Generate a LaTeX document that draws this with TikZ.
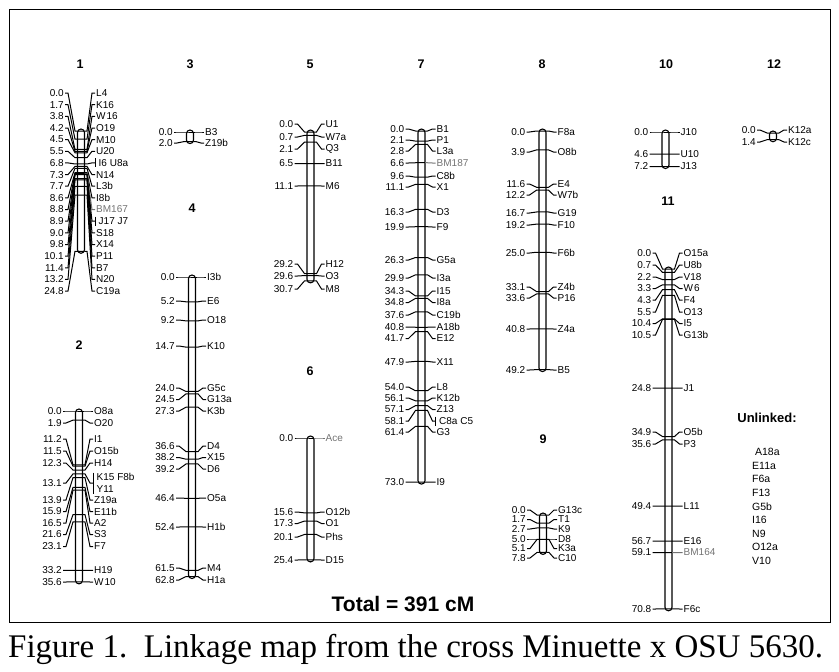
\documentclass[tikz,border=0pt]{standalone}
\usepackage{fontspec}
\setmainfont{Liberation Sans}
\newfontfamily\capfont{Liberation Serif}
\usetikzlibrary{positioning}

% kinds of markers: n = plain, g = grey, b = with bar
\def\kindg{g}
\def\kindb{b}
\def\cmscale{4.8}

% bar of one linkage group: centre x, top y, length in cM
\newcommand{\chrom}[3]{%
  \draw[bar] (#1-3.5,#2-2) rectangle (#1+3.5,#2+#3*\cmscale+2);
}

% markers of one linkage group: name, centre x, top y, list cM/label y/marker/kind
\newcommand{\markers}[4]{%
  \foreach \cmv/\ly/\mk/\kd [count=\i] in {#4} {
    \pgfmathsetmacro{\ty}{#3+\cmv*\cmscale}
    \coordinate (#1t\i) at (#2,\ty);
    \coordinate (#1s\i) at (#2-16,\ly);
    \coordinate (#1e\i) at (#2+14,\ly);
    \node[lbl, anchor=east] (#1l\i) at (#2-17,\ly) {\cmv};
    \draw[link] (#1s\i) -- ++(3,0) -- ([xshift=-6pt]#1t\i) -- ([xshift=3.5pt]#1t\i);
    \ifx\kd\kindg
      \node[lbl, anchor=west, text=black!55] (#1r\i) at (#2+15,\ly) {\mk};
      \draw[link, black!55] ([xshift=3.5pt]#1t\i) -- ([xshift=6pt]#1t\i) -- ([xshift=-3pt]#1e\i) -- (#1e\i);
    \else
      \ifx\kd\kindb
        \node[lbl, anchor=west] (#1r\i) at (#2+17.5,\ly) {\mk};
        \draw[link] ([yshift=4.5pt]#1e\i) -- ([yshift=-4.5pt]#1e\i);
      \else
        \node[lbl, anchor=west] (#1r\i) at (#2+15,\ly) {\mk};
      \fi
      \draw[link] ([xshift=3.5pt]#1t\i) -- ([xshift=6pt]#1t\i) -- ([xshift=-3pt]#1e\i) -- (#1e\i);
    \fi
  }
}

\begin{document}
\begin{tikzpicture}[x=1pt, y=-1pt,
    lbl/.style={font=\fontsize{10}{11}\selectfont, inner sep=0pt},
    num/.style={font=\fontsize{12.5}{12.5}\selectfont\bfseries, inner sep=0pt},
    link/.style={line width=1pt},
    bar/.style={line width=1.1pt, fill=white, rounded corners=3.5pt}]
  \useasboundingbox (0,0) rectangle (839,672);
  % Rahmen
  \draw[line width=0.9pt] (9,9) rectangle (830,622);

  % Gruppennummern
  \node[num] (n1) at (80,64) {1};
  \node[num] (n3) at (190,64) {3};
  \node[num] (n5) at (310,64) {5};
  \node[num] (n7) at (421,64) {7};
  \node[num] (n8) at (542,64) {8};
  \node[num] (n10) at (666,64) {10};
  \node[num] (n12) at (774,64) {12};
  \node[num] (n2) at (79,345) {2};
  \node[num] (n4) at (192,208) {4};
  \node[num] (n6) at (310,371) {6};
  \node[num] (n9) at (543,439) {9};
  \node[num] (n11) at (668,201) {11};

  % Gruppe 1
  \def\cmscale{4.85}
  \chrom{81}{131}{24.8}
  \markers{c1}{81}{131}{0.0/93/L4/n, 1.7/104.6/K16/n, 3.8/116.3/W\kern1pt16/n,
    4.2/128/O19/n, 4.5/139.6/M10/n, 5.5/151.3/U20/n, 6.8/162.9/I6 U8a/b,
    7.3/174.6/N14/n, 7.7/186.2/L3b/n, 8.6/197.9/I8b/n, 8.8/209.5/BM167/g,
    8.9/221.2/J17 J7/b, 9.0/232.8/S18/n, 9.8/244.5/X14/n, 10.1/256.1/P11/n,
    11.4/267.8/B7/n, 13.2/279.4/N20/n, 24.8/291/C19a/n}

  % Gruppe 2
  \def\cmscale{4.8}
  \chrom{79}{411}{35.6}
  \markers{c2}{79}{411}{0.0/411/O8a/n, 1.9/423/O20/n, 11.2/439/I1/n,
    11.5/451/O15b/n, 12.3/463/H14/n, 13.9/500/Z19a/n, 15.9/511.5/E11b/n,
    16.5/523/A2/n, 21.6/534.5/S3/n, 23.1/546.5/F7/n, 33.2/570.4/H19/n,
    35.6/582/W\kern1pt10/n}
  % 13.1 mit drei Markern
  \coordinate (c2t13) at (79,473.9);
  \node[lbl, anchor=east] (c2l13) at (62,483) {13.1};
  \draw[link] ([xshift=1pt]c2l13.east) -- ++(3,0) -- ([xshift=-6pt]c2t13)
    -- ([xshift=6pt]c2t13) -- (90,483) -- (93,483);
  \draw[link] (93,472.5) -- (93,493.5);
  \node[lbl, anchor=west] (c2r13a) at (96.5,477) {K15 F8b};
  \node[lbl, anchor=west] (c2r13b) at (96.5,489) {Y11};

  % Gruppe 3
  \chrom{190}{132}{2.0}
  \markers{c3}{190}{132}{0.0/132/B3/n, 2.0/143/Z19b/n}

  % Gruppe 4
  \def\cmscale{4.77}
  \chrom{192}{277}{62.8}
  \markers{c4}{192}{277}{0.0/277/I3b/n, 5.2/301/E6/n, 9.2/320/O18/n,
    14.7/346/K10/n, 24.0/388/G5c/n, 24.5/399.5/G13a/n, 27.3/411/K3b/n,
    36.6/446/D4/n, 38.2/457.5/X15/n, 39.2/469/D6/n, 46.4/498/O5a/n,
    52.4/527/H1b/n, 61.5/568/M4/n, 62.8/580/H1a/n}

  % Gruppe 5
  \def\cmscale{4.85}
  \chrom{310.5}{132}{30.7}
  \markers{c5}{310.5}{132}{0.0/124/U1/n, 0.7/137/W7a/n, 2.1/149/Q3/n,
    6.5/163.5/B11/n, 11.1/186/M6/n, 29.2/264/H12/n, 29.6/276/O3/n,
    30.7/289/M8/n}

  % Gruppe 6
  \def\cmscale{4.8}
  \chrom{310.5}{438}{25.4}
  \markers{c6}{310.5}{438}{0.0/438/Ace/g, 15.6/512/O12b/n, 17.3/523.5/O1/n,
    20.1/537/Phs/n, 25.4/560/D15/n}

  % Gruppe 7
  \def\cmscale{4.81}
  \chrom{421.5}{131}{73.0}
  \markers{c7}{421.5}{131}{0.0/129/B1/n, 2.1/140/P1/n, 2.8/151/L3a/n,
    6.6/163/BM187/g, 9.6/176/C8b/n, 11.1/187/X1/n, 16.3/212/D3/n,
    19.9/227/F9/n, 26.3/260/G5a/n, 29.9/278/I3a/n, 34.3/291/I15/n,
    34.8/302.5/I8a/n, 37.6/315/C19b/n, 40.8/327/A18b/n, 41.7/338.5/E12/n,
    47.9/362/X11/n, 54.0/387/L8/n, 56.1/398/K12b/n, 57.1/409.5/Z13/n,
    58.1/421/C8a C5/b, 61.4/432/G3/n, 73.0/482/I9/n}

  % Gruppe 8
  \def\cmscale{4.85}
  \chrom{542.5}{131}{49.2}
  \markers{c8}{542.5}{131}{0.0/132/F8a/n, 3.9/152/O8b/n, 11.6/184/E4/n,
    12.2/195/W7b/n, 16.7/213/G19/n, 19.2/225/F10/n, 25.0/253/F6b/n,
    33.1/287/Z4b/n, 33.6/298/P16/n, 40.8/329/Z4a/n, 49.2/370/B5/n}

  % Gruppe 9
  \def\cmscale{4.8}
  \chrom{543}{515}{7.8}
  \markers{c9}{543}{515}{0.0/510/G13c/n, 1.7/519.5/T1/n, 2.7/529/K9/n,
    5.0/539/D8/n, 5.1/548.5/K3a/n, 7.8/558/C10/n}

  % Gruppe 10
  \chrom{665.5}{132}{7.2}
  \markers{c10}{665.5}{132}{0.0/132/J10/n, 4.6/154/U10/n, 7.2/166.5/J13/n}

  % Gruppe 11
  \chrom{668.5}{269}{70.8}
  \markers{c11}{668.5}{269}{0.0/253/O15a/n, 0.7/265/U8b/n, 2.2/277/V18/n,
    3.3/288.5/W\kern1pt6/n, 4.3/300/F4/n, 5.5/312/O13/n, 10.4/323.5/I5/n,
    10.5/335/G13b/n, 24.8/388/J1/n, 34.9/432/O5b/n, 35.6/444/P3/n,
    49.4/506/L11/n, 56.7/541/E16/n, 59.1/552.5/BM164/g, 70.8/609/F6c/n}

  % Gruppe 12
  \chrom{773}{133}{1.4}
  \markers{c12}{773}{133}{0.0/130/K12a/n, 1.4/142/K12c/n}

  % nicht gekoppelt
  \node[font=\fontsize{13}{13}\selectfont\bfseries, inner sep=0pt] (unl) at (767,418) {Unlinked:};
  \foreach \mk [count=\i] in {\ A18a, E11a, F6a, F13, G5b, I16, N9, O12a, V10}
    \node[font=\fontsize{10.5}{12}\selectfont, inner sep=0pt, anchor=west] (u\i) at (752,{452+(\i-1)*13.6}) {\mk};

  % Summe
  \node[font=\fontsize{21}{21}\selectfont\bfseries, inner sep=0pt] (tot) at (403,604) {Total = 391 cM};
  % Bildunterschrift
  \node[font=\capfont\fontsize{33}{33}\selectfont, inner sep=0pt, anchor=west] (cap) at (8,649)
    {Figure 1.\enspace Linkage map from the cross Minuette x OSU 5630.};
\end{tikzpicture}
\end{document}
